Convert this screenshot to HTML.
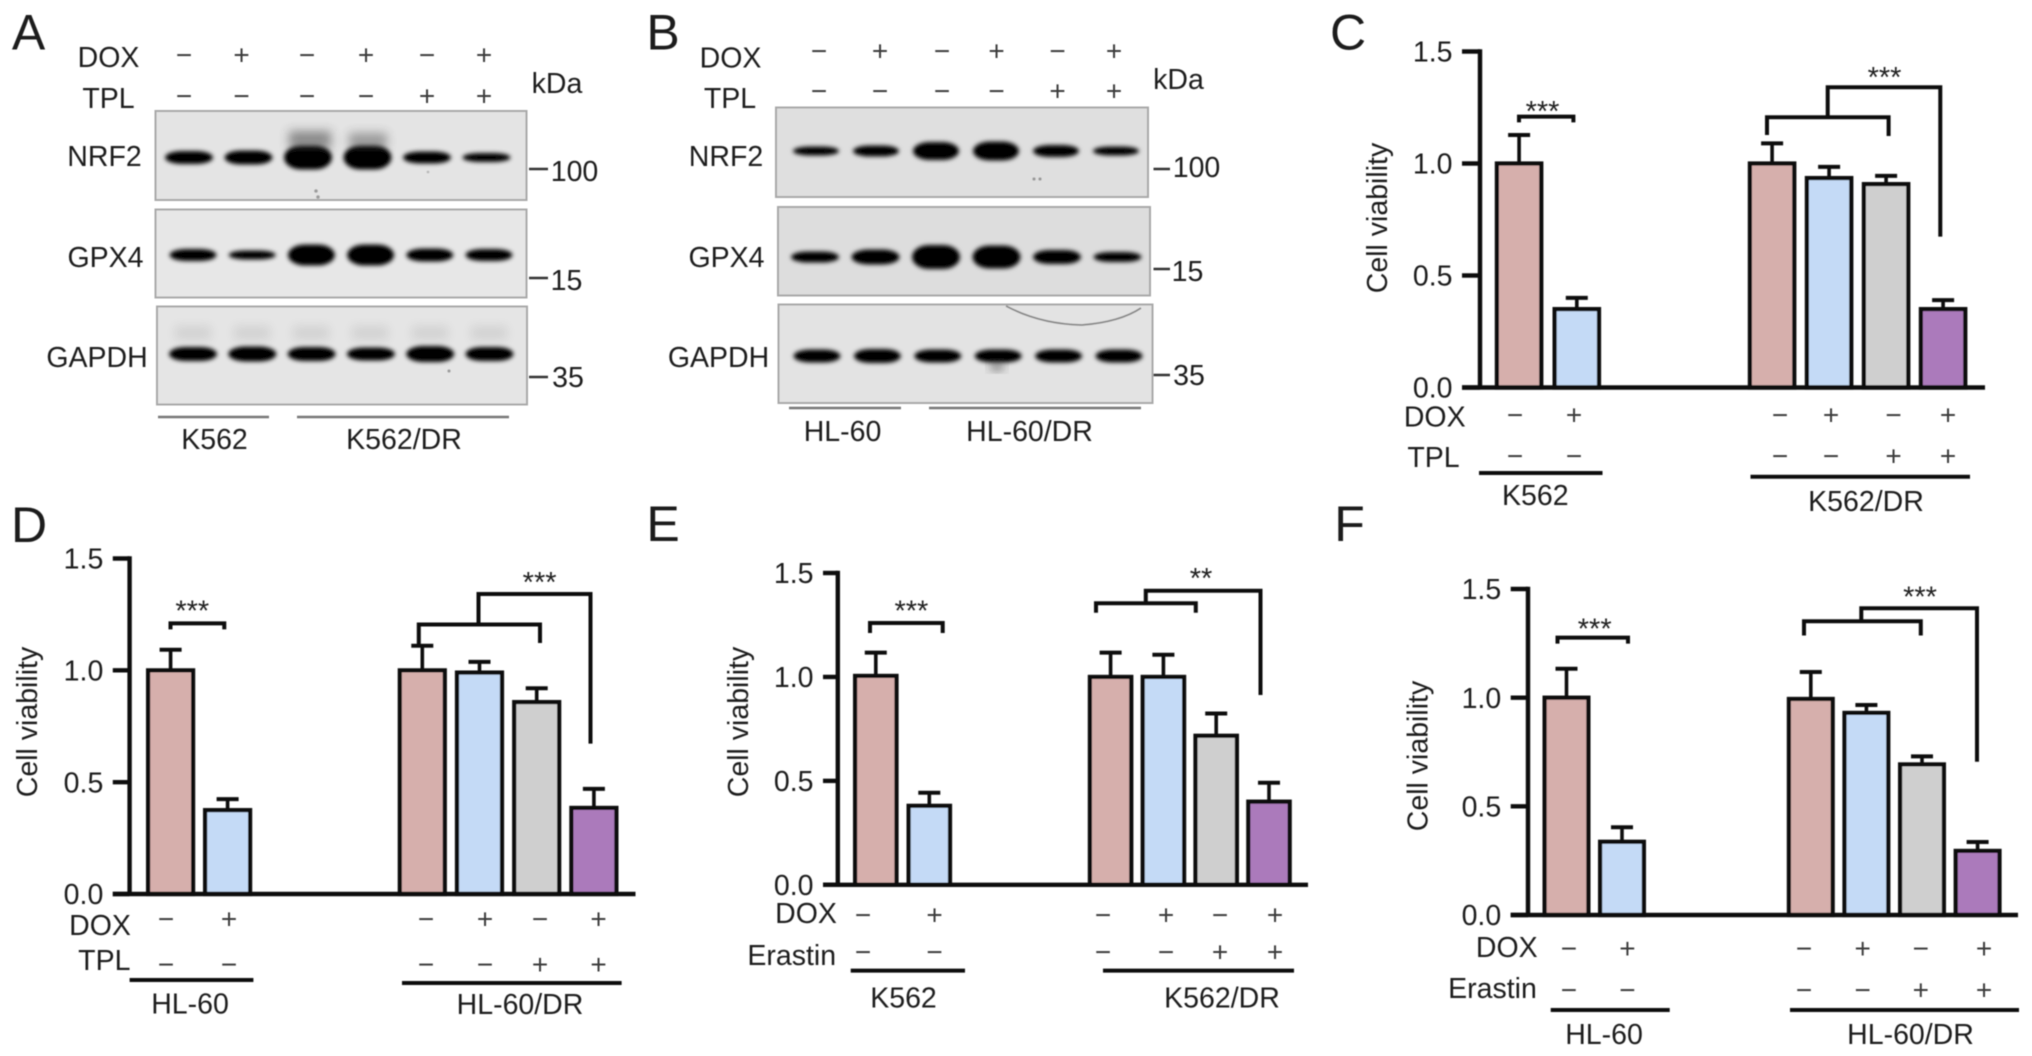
<!DOCTYPE html>
<html lang="en">
<head>
<meta charset="utf-8">
<title>NRF2 / GPX4 western blots and cell viability charts</title>
<style>
html,body{margin:0;padding:0;background:#fff;width:2032px;height:1056px;overflow:hidden}
svg{display:block}
text{font-family:"Liberation Sans",sans-serif;fill:#1f1f1f}
</style>
</head>
<body>
<svg id="figure" xmlns="http://www.w3.org/2000/svg" width="2032" height="1056" viewBox="0 0 2032 1056">
  <defs>
    <filter id="soft" x="-5%" y="-5%" width="110%" height="110%"><feGaussianBlur stdDeviation="0.55"/></filter>
    <filter id="bandBlur" x="-30%" y="-80%" width="160%" height="260%"><feGaussianBlur stdDeviation="2"/></filter>
    <filter id="smearBlur" x="-50%" y="-80%" width="200%" height="260%"><feGaussianBlur stdDeviation="5"/></filter>
  </defs>
  <g id="root" filter="url(#soft)"></g>
</svg>
<script>
// ---------- chart data ----------
const yTickValues = [0, 0.5, 1, 1.5];
const yTickLabels = ['0.0', '0.5', '1.0', '1.5'];
const barFills = ['#d6afac', '#c4daf6', '#cfcfcf', '#ab7abb'];

const panelCValues = [1.0, 0.35, 1.0, 0.935, 0.908, 0.35];
const panelCErrors = [0.127, 0.05, 0.09, 0.05, 0.037, 0.04];
const panelDValues = [1.0, 0.375, 1.0, 0.99, 0.858, 0.385];
const panelDErrors = [0.092, 0.049, 0.11, 0.048, 0.062, 0.085];
const panelEValues = [1.005, 0.38, 1.0, 1.0, 0.717, 0.40];
const panelEErrors = [0.112, 0.063, 0.117, 0.107, 0.107, 0.091];
const panelFValues = [1.0, 0.337, 0.994, 0.93, 0.693, 0.295];
const panelFErrors = [0.133, 0.067, 0.124, 0.036, 0.037, 0.041];

const doxSigns = ['−', '+', '−', '+', '−', '+'];
const drugSigns = ['−', '−', '−', '−', '+', '+'];

// band thickness per lane (signal read from the blots)
const blotANrf2 = [13, 14, 24, 24, 12, 9];
const blotAGpx4 = [12, 9, 21, 21, 13, 12];
const blotAGapdh = [14, 15, 14, 13, 16, 14];
const blotBNrf2 = [9, 11, 18, 19, 12, 9];
const blotBGpx4 = [11, 15, 24, 23, 14, 10];
const blotBGapdh = [13, 14, 13, 13, 13, 13];

// ---------- helpers ----------
const NS = 'http://www.w3.org/2000/svg';
const root = document.getElementById('root');

function add(parent, tag, attrs, name) {
  const el = document.createElementNS(NS, tag);
  for (const k in attrs) el.setAttribute(k, attrs[k]);
  
  
  parent.appendChild(el);
  return el;
}
function label(parent, str, x, yc, name, size, anchor) {
  const s = size || 28.5;
  const el = add(parent, 'text', {x: x, y: yc + 0.358 * s, 'font-size': s, 'text-anchor': anchor || 'middle'}, name);
  el.textContent = str;
  return el;
}
function sign(parent, str, x, yc, name) {
  const el = add(parent, 'text', {x: x, y: yc + 9.4, 'font-size': 28, 'text-anchor': 'middle', style: 'fill:#3c3c3c'}, name);
  el.textContent = str;
  return el;
}
function line(parent, x1, y1, x2, y2, w, name, color) {
  return add(parent, 'line', {x1: x1, y1: y1, x2: x2, y2: y2, stroke: color || '#111', 'stroke-width': w}, name);
}
function stars(parent, str, x, yc, name) {
  const el = add(parent, 'text', {x: x, y: yc + 13.5, 'font-size': 29, 'text-anchor': 'middle', style: 'fill:#222'}, name);
  el.textContent = str;
  return el;
}
function poly(parent, pts, name) {
  return add(parent, 'polyline', {points: pts, fill: 'none', stroke: '#111', 'stroke-width': 4}, name);
}

// ---------- blots ----------
function drawBlot(parent, box, laneStart, laneStep, yCenter, signal, bandWidth, name, bg) {
  const g = add(parent, 'g', {}, name);
  add(g, 'rect', {x: box.x, y: box.y, width: box.w, height: box.h, fill: bg, stroke: '#a8a8a8', 'stroke-width': 2}, name + '-membrane');
  signal.forEach(function (t, i) {
    const cx = laneStart + laneStep * i;
    const el = add(g, 'rect', {
      x: cx - bandWidth / 2, y: yCenter - t / 2, width: bandWidth, height: t,
      rx: 17, ry: t / 2, fill: '#060606', filter: 'url(#bandBlur)'
    }, name + '-band');
    el.setAttribute('data-lane', i + 1);
  });
  return g;
}
function smear(parent, cx, cy, w, h, op, name) {
  add(parent, 'rect', {x: cx - w / 2, y: cy - h / 2, width: w, height: h, fill: '#333', opacity: op, filter: 'url(#smearBlur)'}, name);
}
function speck(parent, x, y, r, op) {
  add(parent, 'circle', {cx: x, cy: y, r: r, fill: '#555', opacity: op}, 'membrane-speck');
}

function blotPanelA() {
  const g = add(root, 'g', {}, 'panel-a');
  label(g, 'A', 28.5, 31.5, 'panel-label-a', 50);
  label(g, 'DOX', 108.5, 57, 'dox-row-label');
  label(g, 'TPL', 108.5, 98, 'tpl-row-label');
  const xs = [184, 241.6, 307, 366, 427, 484];
  xs.forEach(function (x, i) {
    sign(g, doxSigns[i], x, 55, 'dox-sign');
    sign(g, drugSigns[i], x, 96, 'tpl-sign');
  });
  label(g, 'kDa', 557, 83, 'kda-label');
  drawBlot(g, {x: 155.5, y: 111, w: 371, h: 89}, 189, 59.5, 157.5, blotANrf2, 48, 'nrf2-blot-a', '#e4e4e4');
  smear(g, 310, 140, 42, 18, 0.5, 'nrf2-smear');
  smear(g, 368, 141, 38, 16, 0.42, 'nrf2-smear');
  drawBlot(g, {x: 155.5, y: 209.5, w: 371, h: 88}, 193, 59.2, 255, blotAGpx4, 47, 'gpx4-blot-a', '#e7e7e7');
  drawBlot(g, {x: 157, y: 306.5, w: 370, h: 98}, 193, 59.3, 354, blotAGapdh, 48, 'gapdh-blot-a', '#e5e5e5');
  [193, 252, 311, 370, 430, 489].forEach(function (x) {
    smear(g, x, 333, 36, 14, 0.1, 'gapdh-background-smudge');
  });
  speck(g, 316, 191, 1.8, .5); speck(g, 318, 197, 1.8, .5); speck(g, 428, 172, 1.4, .3); speck(g, 449, 371, 1.6, .5);
  label(g, 'NRF2', 104.5, 156, 'nrf2-label');
  label(g, 'GPX4', 105.5, 257, 'gpx4-label');
  label(g, 'GAPDH', 97, 357, 'gapdh-label');
  line(g, 529, 169, 548, 169, 2.6, 'marker-100-tick', '#333');
  line(g, 529, 278, 548, 278, 2.6, 'marker-15-tick', '#333');
  line(g, 529, 377, 548, 377, 2.6, 'marker-35-tick', '#333');
  label(g, '100', 574.5, 171, 'marker-100-label');
  label(g, '15', 566.5, 280, 'marker-15-label');
  label(g, '35', 568, 377, 'marker-35-label');
  line(g, 158, 417, 269, 417, 2.4, 'k562-group-line', '#777');
  line(g, 297, 417, 509, 417, 2.4, 'k562-dr-group-line', '#777');
  label(g, 'K562', 214.5, 439, 'k562-label');
  label(g, 'K562/DR', 404, 439, 'k562-dr-label');
}

function blotPanelB() {
  const g = add(root, 'g', {}, 'panel-b');
  label(g, 'B', 663, 31.5, 'panel-label-b', 50);
  label(g, 'DOX', 730.5, 57.5, 'dox-row-label');
  label(g, 'TPL', 730, 98, 'tpl-row-label');
  const xs = [819, 880, 942, 996.5, 1057.5, 1114];
  xs.forEach(function (x, i) {
    sign(g, doxSigns[i], x, 51, 'dox-sign');
    sign(g, drugSigns[i], x, 91, 'tpl-sign');
  });
  label(g, 'kDa', 1178.5, 79, 'kda-label');
  drawBlot(g, {x: 776, y: 107.5, w: 372, h: 89.5}, 816, 60, 151, blotBNrf2, 46, 'nrf2-blot-b', '#dfdfdf');
  drawBlot(g, {x: 778, y: 207, w: 372, h: 88.5}, 815, 60.5, 257, blotBGpx4, 48, 'gpx4-blot-b', '#dddddd');
  drawBlot(g, {x: 778.5, y: 304.5, w: 374, h: 98.5}, 817, 60.4, 356, blotBGapdh, 47, 'gapdh-blot-b', '#e3e3e3');
  add(g, 'path', {d: 'M1006 306 Q1040 324 1082 325 Q1120 322 1141 308', fill: 'none', stroke: '#888', 'stroke-width': 1.8}, 'membrane-crease');
  smear(g, 997, 366, 12, 6, 0.9, 'gapdh-band-spot');
  speck(g, 1034, 179, 1.6, .5); speck(g, 1040, 179, 1.6, .5);
  label(g, 'NRF2', 726, 156, 'nrf2-label');
  label(g, 'GPX4', 726.5, 257, 'gpx4-label');
  label(g, 'GAPDH', 718.5, 357, 'gapdh-label');
  line(g, 1153.5, 169, 1170, 169, 2.6, 'marker-100-tick', '#333');
  line(g, 1153.5, 269, 1170, 269, 2.6, 'marker-15-tick', '#333');
  line(g, 1153.5, 375, 1170, 375, 2.6, 'marker-35-tick', '#333');
  label(g, '100', 1196.5, 167, 'marker-100-label');
  label(g, '15', 1187.5, 271, 'marker-15-label');
  label(g, '35', 1189, 375, 'marker-35-label');
  line(g, 789, 408, 901, 408, 2.4, 'hl60-group-line', '#777');
  line(g, 929, 408, 1141, 408, 2.4, 'hl60-dr-group-line', '#777');
  label(g, 'HL-60', 842.5, 431, 'hl60-label');
  label(g, 'HL-60/DR', 1029.5, 431, 'hl60-dr-label');
}

// ---------- bar charts ----------
function drawBarPanel(cfg, values, errors) {
  const g = add(root, 'g', {}, cfg.name);
  const yScale = function (v) { return cfg.y0 - (v / 1.5) * (cfg.y0 - cfg.yTop); };
  const xScale = function (i) { return i < 2 ? cfg.x1 + i * cfg.step1 : cfg.x2 + (i - 2) * cfg.step2; };

  values.forEach(function (v, i) {
    const x = xScale(i), top = yScale(v), cx = x + cfg.barW / 2;
    const fillIdx = i < 2 ? i : i - 2;
    line(g, cx, top, cx, yScale(v + errors[i]), 3.6, 'error-bar-stem');
    line(g, cx - 11, yScale(v + errors[i]), cx + 11, yScale(v + errors[i]), 4, 'error-bar-cap');
    add(g, 'rect', {x: x + 2.1, y: top, width: cfg.barW - 4.2, height: cfg.y0 - top, fill: barFills[fillIdx], stroke: '#111', 'stroke-width': 4.2}, 'bar-' + (i + 1));
  });

  line(g, cfg.axisX, cfg.yTop - 2.2, cfg.axisX, cfg.y0, 4.4, 'y-axis');
  line(g, cfg.tickL, cfg.y0, cfg.xEnd, cfg.y0, 4.4, 'x-axis');
  yTickValues.forEach(function (t, i) {
    line(g, cfg.tickL, yScale(t), cfg.axisX, yScale(t), 4.4, 'y-tick');
    label(g, yTickLabels[i], cfg.tickL - 9.5, yScale(t), 'y-tick-label', 28.5, 'end');
  });
  const yt = add(g, 'text', {
    transform: 'translate(' + (cfg.titleX + 10) + ' ' + cfg.titleY + ') rotate(-90)',
    'font-size': 28.5, 'text-anchor': 'middle'
  }, 'y-axis-title');
  yt.textContent = 'Cell viability';

  cfg.signX.forEach(function (x, i) {
    sign(g, doxSigns[i], x, cfg.doxSignY, 'dox-sign');
    sign(g, drugSigns[i], x, cfg.drugSignY, cfg.drug.toLowerCase() + '-sign');
  });
  label(g, 'DOX', cfg.doxX, cfg.doxY, 'dox-row-label');
  label(g, cfg.drug, cfg.drugX, cfg.drugY, cfg.drug.toLowerCase() + '-row-label');
  line(g, cfg.u1[0], cfg.u1[2], cfg.u1[1], cfg.u1[2], 4, 'parental-group-line');
  line(g, cfg.u2[0], cfg.u2[2], cfg.u2[1], cfg.u2[2], 4, 'resistant-group-line');
  label(g, cfg.g1[0], cfg.g1[1], cfg.g1[2], 'parental-group-label');
  label(g, cfg.g2[0], cfg.g2[1], cfg.g2[2], 'resistant-group-label');
  label(g, cfg.letter[0], cfg.letter[1], cfg.letter[2], 'panel-letter', 50);

  const b = cfg.br;
  poly(g, b.l[0] + ',' + b.l[3] + ' ' + b.l[0] + ',' + b.l[2] + ' ' + b.l[1] + ',' + b.l[2] + ' ' + b.l[1] + ',' + b.l[3], 'parental-significance-bracket');
  poly(g, b.m[0] + ',' + b.m[3] + ' ' + b.m[0] + ',' + b.m[2] + ' ' + b.m[1] + ',' + b.m[2] + ' ' + b.m[1] + ',' + b.m[4], 'resistant-lower-bracket');
  poly(g, b.u[0] + ',' + b.m[2] + ' ' + b.u[0] + ',' + b.u[2] + ' ' + b.u[1] + ',' + b.u[2] + ' ' + b.u[1] + ',' + b.u[3], 'resistant-upper-bracket');
  stars(g, '***', b.s1[0], b.s1[1], 'parental-significance-stars');
  stars(g, b.s2[2], b.s2[0], b.s2[1], 'resistant-significance-stars');
}

blotPanelA();
blotPanelB();

drawBarPanel({
  name: 'panel-c', letter: ['C', 1348, 31.5], axisX: 1480, tickL: 1462, xEnd: 1985, y0: 387.5, yTop: 51.5,
  x1: 1494.8, step1: 57.7, x2: 1747.8, step2: 57, barW: 48.6, titleX: 1377, titleY: 218,
  signX: [1515, 1574, 1780, 1831, 1893.6, 1948], doxSignY: 415, drugSignY: 456,
  doxX: 1434.7, doxY: 416.5, drug: 'TPL', drugX: 1433.5, drugY: 457,
  u1: [1479, 1602.5, 473], u2: [1750.5, 1970, 476.7],
  g1: ['K562', 1535.3, 494.6], g2: ['K562/DR', 1866, 501],
  br: {l: [1519, 1573.4, 116.6, 122.4], m: [1767, 1888.6, 117.3, 135, 136], u: [1827.7, 1940.3, 87.2, 236.6], s1: [1542.5, 107.5], s2: [1884.5, 73.7, '***']}
}, panelCValues, panelCErrors);

drawBarPanel({
  name: 'panel-d', letter: ['D', 29, 524], axisX: 129.6, tickL: 112.8, xEnd: 635.5, y0: 894, yTop: 558.5,
  x1: 146, step1: 57, x2: 397.7, step2: 57.2, barW: 49.2, titleX: 27, titleY: 722,
  signX: [166, 229, 426, 485, 540, 598.5], doxSignY: 919, drugSignY: 964.5,
  doxX: 100, doxY: 924.8, drug: 'TPL', drugX: 104.3, drugY: 960,
  u1: [129.6, 253.4, 980], u2: [402, 621.6, 983],
  g1: ['HL-60', 190, 1003.5], g2: ['HL-60/DR', 520, 1004],
  br: {l: [170.5, 224.3, 623.4, 629.4], m: [418.8, 540, 624.5, 645, 643], u: [478.5, 590.5, 594, 743.6], s1: [192.3, 607], s2: [539.6, 578.7, '***']}
}, panelDValues, panelDErrors);

drawBarPanel({
  name: 'panel-e', letter: ['E', 663, 523], axisX: 837.8, tickL: 823, xEnd: 1308, y0: 884.8, yTop: 573,
  x1: 853, step1: 53.5, x2: 1087.8, step2: 52.8, barW: 45.6, titleX: 738, titleY: 722,
  signX: [863, 934.6, 1103, 1166, 1220, 1275], doxSignY: 915, drugSignY: 952,
  doxX: 806, doxY: 913, drug: 'Erastin', drugX: 791.7, drugY: 955,
  u1: [850.7, 965, 970.6], u2: [1103, 1294, 970.6],
  g1: ['K562', 903.5, 997.5], g2: ['K562/DR', 1222, 997.5],
  br: {l: [870, 942.7, 623, 633], m: [1096, 1195.8, 603.2, 612.8, 612.8], u: [1145.8, 1260.5, 590.7, 695], s1: [911.4, 607], s2: [1201, 574.5, '**']}
}, panelEValues, panelEErrors);

drawBarPanel({
  name: 'panel-f', letter: ['F', 1349.5, 523], axisX: 1528, tickL: 1510.7, xEnd: 2018, y0: 915, yTop: 589,
  x1: 1542.5, step1: 55.5, x2: 1786.8, step2: 55.6, barW: 48, titleX: 1417.6, titleY: 756,
  signX: [1568.9, 1627.4, 1804, 1862.7, 1920.8, 1984], doxSignY: 948.6, drugSignY: 990,
  doxX: 1506.8, doxY: 946.8, drug: 'Erastin', drugX: 1492.5, drugY: 987.6,
  u1: [1550.7, 1669.7, 1010], u2: [1790, 2019, 1010],
  g1: ['HL-60', 1604, 1033.7], g2: ['HL-60/DR', 1910.5, 1033.7],
  br: {l: [1557.5, 1628, 637.6, 643.6], m: [1804, 1920.8, 621.3, 635.5, 635.5], u: [1861.3, 1977, 608.3, 761.7], s1: [1594.7, 625], s2: [1920, 593, '***']}
}, panelFValues, panelFErrors);
</script>
</body>
</html>
